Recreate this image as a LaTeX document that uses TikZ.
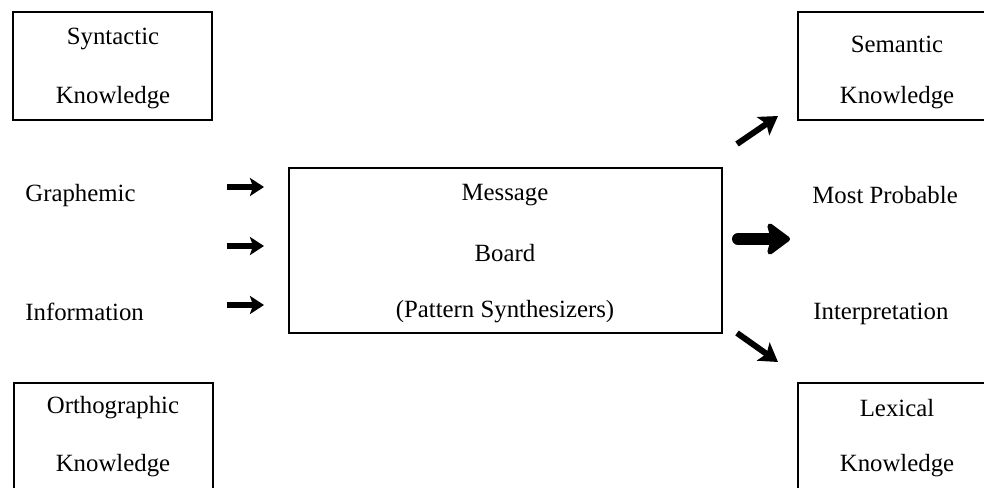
\documentclass[tikz,border=0pt]{standalone}
\usepackage{fontspec}
\setmainfont{Liberation Serif}
\usetikzlibrary{arrows.meta}
\begin{document}
\begin{tikzpicture}[x=0.5pt,y=-0.5pt,
  kbox/.style={draw, line width=1pt, minimum width=99.5pt, minimum height=54pt, inner sep=0pt},
  mbox/.style={draw, line width=1pt, minimum width=216.5pt, minimum height=82.5pt, inner sep=0pt},
  lbl/.style={font=\fontsize{12.4}{14}\selectfont, inner sep=0pt},
  smallarrow/.style={line width=2.6pt, -{Stealth[length=7pt,width=9pt,inset=1.5pt]}},
  bigarrow/.style={line width=6pt, line cap=round, -{Stealth[length=13pt,width=19pt,inset=2.5pt,round]}},
  diagarrow/.style={line width=3pt, -{Stealth[length=9pt,width=11pt,inset=2pt]}}]
\useasboundingbox (0,0) rectangle (984,487);

% knowledge sources
\node[kbox] (syn) at (112.5,66) {};
\node[lbl] (synA) at (113,39) {Syntactic};
\node[lbl] (synB) at (113,98) {Knowledge};
\node[kbox] (sem) at (897.5,66) {};
\node[lbl] (semA) at (897,44) {Semantic};
\node[lbl] (semB) at (897,98) {Knowledge};
\node[kbox] (orth) at (113,437) {};
\node[lbl] (orthA) at (113,408) {Orthographic};
\node[lbl] (orthB) at (113,466) {Knowledge};
\node[kbox] (lex) at (897,437) {};
\node[lbl] (lexA) at (897,408) {Lexical};
\node[lbl] (lexB) at (897,466) {Knowledge};

% central message board
\node[mbox] (board) at (505.5,250.5) {};
\node[lbl] (boardA) at (505,195) {Message};
\node[lbl] (boardB) at (505,253) {Board};
\node[lbl] (boardC) at (505,312) {(Pattern Synthesizers)};

% input and output labels
\node[lbl, anchor=west] (graph) at (25,196) {Graphemic};
\node[lbl, anchor=west] (info) at (25,312) {Information};
\node[lbl, anchor=west] (most) at (812,195) {Most Probable};
\node[lbl, anchor=west] (interp) at (813,314) {Interpretation};

% arrow end points
\coordinate (in1s) at (227,187); \coordinate (in1e) at (264,187);
\coordinate (in2s) at (227,246); \coordinate (in2e) at (264,246);
\coordinate (in3s) at (227,305); \coordinate (in3e) at (264,305);
\coordinate (outs) at (738,239); \coordinate (oute) at (790,239);
\coordinate (ups) at (737,144);  \coordinate (upe) at (778,116);
\coordinate (dns) at (737,333);  \coordinate (dne) at (778,362);

\draw[smallarrow] (in1s) -- (in1e);
\draw[smallarrow] (in2s) -- (in2e);
\draw[smallarrow] (in3s) -- (in3e);
\draw[bigarrow] (outs) -- (oute);
\draw[diagarrow] (ups) -- (upe);
\draw[diagarrow] (dns) -- (dne);
\end{tikzpicture}
\end{document}
